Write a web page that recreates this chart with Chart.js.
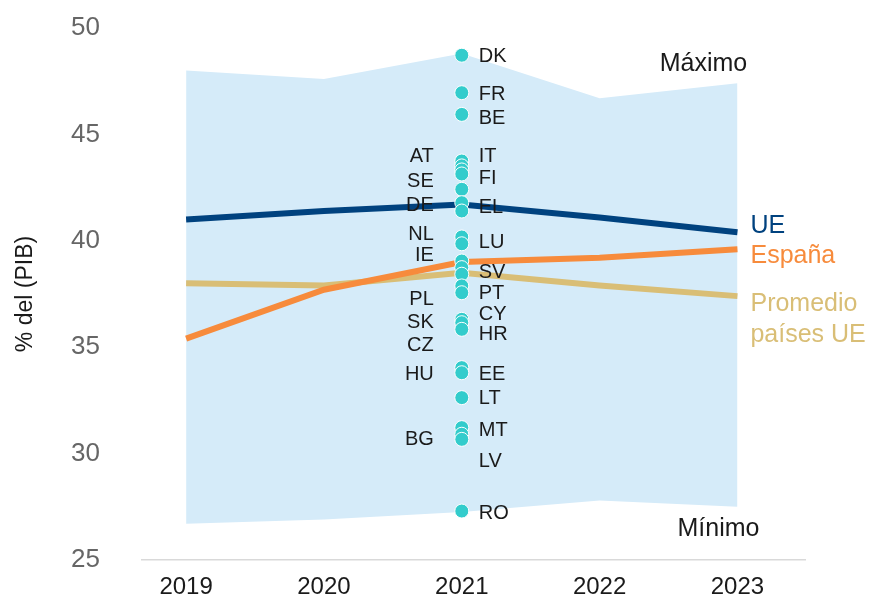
<!DOCTYPE html>
<html>
<head>
<meta charset="utf-8">
<script src="https://cdn.jsdelivr.net/npm/chart.js@4/dist/chart.umd.min.js"></script>
<style>
    html, body { margin: 0; padding: 0; background: #fff; }
    #chart { display: block; }
</style>
</head>
<body>
<canvas id="chart" width="874" height="602"></canvas>
<script>
const years = [2019, 2020, 2021, 2022, 2023];
const maxValues = [48.0, 47.6, 48.8, 46.7, 47.4];
const minValues = [26.7, 26.9, 27.25, 27.8, 27.5];
const ueValues = [41.0, 41.4, 41.7, 41.1, 40.4];
const espanaValues = [35.4, 37.7, 39.0, 39.2, 39.6];
const promedioValues = [38.0, 37.9, 38.5, 37.9, 37.4];

// 2021 values per country
const countryYear = 2021;
const countries = ["DK", "FR", "BE", "IT", "AT", "FI", "SE", "LU", "DE", "EL", "NL", "IE", "ES", "SV",
    "PT", "PL", "SK", "CY", "CZ", "HR", "EE", "HU", "LT", "MT", "BG", "LV", "RO"];
const countryValues = [48.72, 46.96, 45.94, 43.75, 43.52, 43.33, 43.14, 42.42, 41.79, 41.40, 40.18, 39.86,
    39.05, 38.74, 38.43, 37.88, 37.56, 36.31, 36.15, 35.84, 34.04, 33.80, 32.63, 31.22, 30.91, 30.67, 27.30];

// country labels: text, side and where the label sits (in % of GDP)
const labelTexts = ["DK", "FR", "BE", "AT", "IT", "SE", "FI", "DE", "EL", "NL", "LU", "IE", "SV",
    "PL", "PT", "SK", "CY", "HR", "CZ", "HU", "EE", "LT", "MT", "BG", "LV", "RO"];
const labelSides = ["R", "R", "R", "L", "R", "L", "R", "L", "R", "L", "R", "L", "R",
    "L", "R", "L", "R", "R", "L", "L", "R", "R", "R", "L", "R", "R"];
const labelAt = [48.68, 46.88, 45.76, 43.95, 43.95, 42.81, 42.94, 41.68, 41.56, 40.31, 39.91, 39.29, 38.50,
    37.25, 37.51, 36.15, 36.55, 35.61, 35.10, 33.73, 33.73, 32.58, 31.09, 30.67, 29.65, 27.18];

const FONT = "'Liberation Sans', Arial, sans-serif";
const COLORS = {
    band: "#d5ebf9",
    ue: "#00427f",
    espana: "#f78b3c",
    promedio: "#d9be76",
    dot: "#33cccc"
};

Chart.defaults.font.family = FONT;

function toPoints(values) {
    return values.map((v, i) => ({ x: years[i], y: v }));
}

const textPlugin = {
    id: "textLabels",
    afterDatasetsDraw(chart) {
        const ctx = chart.ctx;
        const xs = chart.scales.x;
        const ys = chart.scales.y;
        const cx = xs.getPixelForValue(countryYear);
        const last = years.length - 1;
        const endX = xs.getPixelForValue(years[last]) + 13;

        ctx.save();
        ctx.textBaseline = "middle";

        ctx.font = "20px " + FONT;
        ctx.fillStyle = "#1a1a1a";
        labelTexts.forEach((t, i) => {
            const y = ys.getPixelForValue(labelAt[i]);
            if (labelSides[i] === "L") {
                ctx.textAlign = "right";
                ctx.fillText(t, cx - 28, y);
            } else {
                ctx.textAlign = "left";
                ctx.fillText(t, cx + 17, y);
            }
        });

        ctx.font = "25px " + FONT;
        ctx.textAlign = "left";
        ctx.fillStyle = COLORS.ue;
        ctx.fillText("UE", endX, ys.getPixelForValue(ueValues[last]) - 6);
        ctx.fillStyle = COLORS.espana;
        ctx.fillText("España", endX, ys.getPixelForValue(espanaValues[last]) + 7);
        ctx.fillStyle = COLORS.promedio;
        const py = ys.getPixelForValue(promedioValues[last]);
        ctx.fillText("Promedio", endX, py + 8);
        ctx.fillText("países UE", endX, py + 39);

        ctx.fillStyle = "#1a1a1a";
        ctx.textAlign = "center";
        const mx = xs.getPixelForValue(years[last]);
        ctx.fillText("Máximo", mx - 34, ys.getPixelForValue(maxValues[last]) - 19);
        ctx.fillText("Mínimo", mx - 19, ys.getPixelForValue(minValues[last]) + 22);
        ctx.restore();
    }
};

new Chart(document.getElementById("chart"), {
    type: "line",
    data: {
        datasets: [
            {
                label: "Países",
                data: countryValues.map(v => ({ x: countryYear, y: v })),
                showLine: false,
                pointRadius: 7,
                pointBackgroundColor: COLORS.dot,
                pointBorderColor: "#fff",
                pointBorderWidth: 1,
                order: 0
            },
            {
                label: "España",
                data: toPoints(espanaValues),
                borderColor: COLORS.espana,
                borderWidth: 6,
                pointRadius: 0,
                order: 1
            },
            {
                label: "UE",
                data: toPoints(ueValues),
                borderColor: COLORS.ue,
                borderWidth: 6,
                pointRadius: 0,
                order: 2
            },
            {
                label: "Promedio países UE",
                data: toPoints(promedioValues),
                borderColor: COLORS.promedio,
                borderWidth: 6,
                pointRadius: 0,
                order: 3
            },
            {
                label: "Máximo",
                data: toPoints(maxValues),
                borderWidth: 0,
                borderColor: "transparent",
                backgroundColor: COLORS.band,
                pointRadius: 0,
                fill: "+1",
                order: 4
            },
            {
                label: "Mínimo",
                data: toPoints(minValues),
                borderWidth: 0,
                borderColor: "transparent",
                pointRadius: 0,
                fill: false,
                order: 5
            }
        ]
    },
    options: {
        responsive: false,
        animation: false,
        devicePixelRatio: 1,
        layout: { padding: { top: 28, right: 69, left: 0, bottom: 0 } },
        plugins: {
            legend: { display: false },
            tooltip: { enabled: false }
        },
        scales: {
            x: {
                type: "linear",
                min: 2018.68,
                max: 2023.49,
                grid: { display: false, drawTicks: false },
                border: { display: true, color: "#d9d9d9", width: 1.5 },
                ticks: {
                    padding: 13,
                    color: "#1a1a1a",
                    font: { size: 24 },
                    callback: v => String(v)
                },
                afterBuildTicks: scale => { scale.ticks = years.map(v => ({ value: v })); },
                afterFit: scale => { scale.height = 42; }
            },
            y: {
                min: 25,
                max: 50,
                // tick marks are invisible, they only push the labels away from the plot
                grid: { display: true, drawOnChartArea: false, drawTicks: true, tickLength: 42, color: "transparent" },
                border: { display: false },
                ticks: { stepSize: 5, padding: 0, color: "#666", font: { size: 26 } },
                title: {
                    display: true,
                    text: "% del (PIB)",
                    color: "#1a1a1a",
                    font: { size: 23 },
                    padding: { top: 12, bottom: 0 }
                },
                afterFit: scale => { scale.width = 142; }
            }
        }
    },
    plugins: [textPlugin]
});
</script>
</body>
</html>
